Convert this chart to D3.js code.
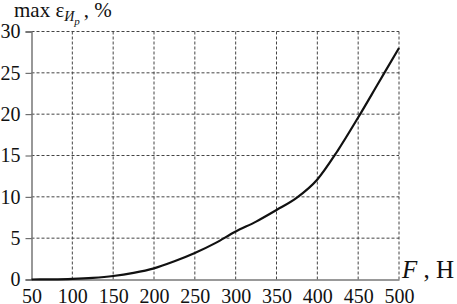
<!DOCTYPE html>
<html>
<head>
<meta charset="utf-8">
<script src="https://cdn.jsdelivr.net/npm/d3@7"></script>
<style>
body { margin: 0; background: #fff; }
svg text { font-family: "Liberation Serif", serif; fill: #111; }
</style>
</head>
<body>
<div id="chart"></div>
<script>
var forceValues = [50, 75, 100, 125, 150, 175, 200, 225, 250, 275, 300, 325, 350, 375, 400, 425, 450, 475, 500];
var errorValues = [0, 0.02, 0.08, 0.2, 0.42, 0.8, 1.35, 2.2, 3.2, 4.4, 5.8, 7.0, 8.4, 9.9, 12.1, 15.6, 19.6, 23.8, 28];
var xTicks = [50, 100, 150, 200, 250, 300, 350, 400, 450, 500];
var yTicks = [0, 5, 10, 15, 20, 25, 30];

var width = 457;
var height = 304;

var svg = d3.select("#chart")
	.append("svg")
	.attr("width", width)
	.attr("height", height);

var xScale = d3.scaleLinear().domain([50, 500]).range([31.5, 399]);
var yScale = d3.scaleLinear().domain([0, 30]).range([279.5, 31.5]);

// dashed grid
var grid = svg.append("g");
grid.selectAll("line.v")
	.data(xTicks.slice(1))
	.enter().append("line")
	.attr("x1", d => xScale(d)).attr("x2", d => xScale(d))
	.attr("y1", yScale(30)).attr("y2", yScale(0))
	.attr("stroke", "#444").attr("stroke-width", 1)
	.attr("stroke-dasharray", "3,2");
grid.selectAll("line.h")
	.data(yTicks.slice(1))
	.enter().append("line")
	.attr("x1", xScale(50)).attr("x2", xScale(500))
	.attr("y1", d => yScale(d)).attr("y2", d => yScale(d))
	.attr("stroke", "#444").attr("stroke-width", 1)
	.attr("stroke-dasharray", "3,2");

// axes
var leftAxis = d3.axisLeft(yScale).tickValues(yTicks).tickSize(6).tickPadding(5);
var bottomAxis = d3.axisBottom(xScale).tickValues(xTicks).tickSize(0).tickPadding(9);

var yAxis = svg.append("g").attr("transform", `translate(${xScale(50)},0)`).call(leftAxis);
var xAxis = svg.append("g").attr("transform", `translate(0,${yScale(0)})`).call(bottomAxis);

[xAxis, yAxis].forEach(function (ax) {
	ax.attr("font-family", "Liberation Serif").attr("font-size", 20);
	ax.select(".domain").attr("stroke", "#777").attr("stroke-width", 1.5);
	ax.selectAll(".tick line").attr("stroke", "#555");
	ax.selectAll("text").attr("fill", "#111");
});

// curve
var line = d3.line()
	.x((d, i) => xScale(forceValues[i]))
	.y(d => yScale(d))
	.curve(d3.curveMonotoneX);

svg.append("path")
	.datum(errorValues)
	.attr("d", line)
	.attr("fill", "none")
	.attr("stroke", "#111")
	.attr("stroke-width", 2.2);

// axis titles
var yTitle = svg.append("text")
	.attr("x", 14).attr("y", 17)
	.style("font-size", "21px");
yTitle.append("tspan").text("max ε");
yTitle.append("tspan").attr("font-style", "italic").style("font-size", "14px").attr("dy", 4).text("И");
yTitle.append("tspan").attr("font-style", "italic").style("font-size", "11px").attr("dy", 4).text("р");
yTitle.append("tspan").attr("dy", -8).attr("dx", 4).text(", %");

var xTitle = svg.append("text")
	.attr("x", 402).attr("y", 278)
	.style("font-size", "25px");
xTitle.append("tspan").attr("font-style", "italic").text("F");
xTitle.append("tspan").text(" , Н");
</script>
</body>
</html>
